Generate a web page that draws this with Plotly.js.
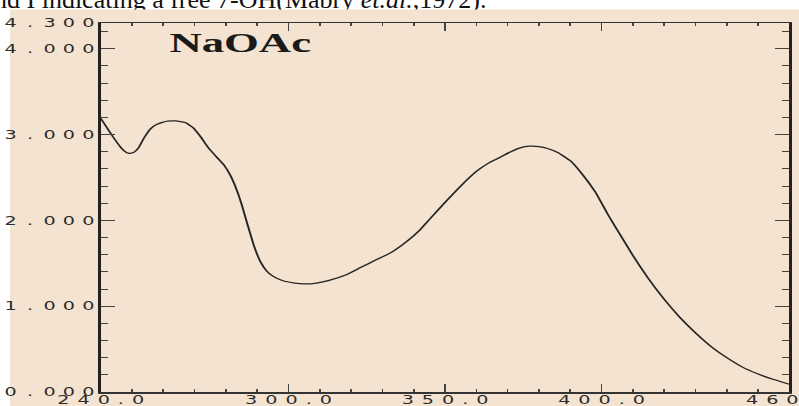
<!DOCTYPE html>
<html><head><meta charset="utf-8">
<script src="https://cdn.plot.ly/plotly-3.0.1.min.js"></script>
<style>
html,body{margin:0;padding:0;background:#fff;overflow:hidden;width:799px;height:406px;}
#cap{position:absolute;left:-6px;top:-13px;font-family:'Liberation Serif','Times New Roman',serif;font-size:26px;line-height:25.5px;white-space:nowrap;color:#111;z-index:0;}
#chart{position:absolute;left:0;top:0;width:500px;height:406px;transform:scaleX(1.598);transform-origin:0 0;z-index:1;}
</style></head><body>
<div id="cap">nd I indicating a free 7-OH(Mabry <i>et.al.</i>,1972).</div>
<div id="chart"></div>
<script>
const wavelength = [240,242,244,246,247.5,249,250.5,252,254,256,258,261,264,267,269.5,272,274.5,277,279.5,281.5,283.5,285,287,289,291,293,295,298,302,305,309,313,318,323,328,333,338,342,345,350,355,360,364,367,371,374,377,380,383,386,390,394,398,402,406,410,415,420,425,430,435,440,445,450,455,460];
const absorbance = [3.19,3.08,2.97,2.87,2.81,2.78,2.79,2.84,2.97,3.07,3.12,3.155,3.16,3.14,3.08,2.97,2.84,2.74,2.64,2.52,2.35,2.19,1.94,1.70,1.52,1.41,1.35,1.30,1.27,1.26,1.27,1.30,1.36,1.45,1.54,1.63,1.76,1.89,2.01,2.21,2.40,2.57,2.67,2.725,2.80,2.845,2.865,2.86,2.835,2.79,2.695,2.53,2.33,2.07,1.83,1.59,1.32,1.08,0.87,0.69,0.53,0.40,0.29,0.21,0.145,0.09];
const xTickVals = [240,300,350,400,460];
const xTickLabels = ['240.0','300.0','350.0','400.0','460.0'];
const yTickVals = [0,1,2,3,4,4.3];
const yTickLabels = ['0.000','1.000','2.000','3.000','4.000','4.300'];
const sampleLabel = 'NaOAc';

function spX(t){ return "<span style='letter-spacing:5px'>" + t.slice(0,-1) + "</span>" + t.slice(-1); }
function spY(t){
  return "<span style='letter-spacing:6.5px'>" + t.slice(0,2) + "</span>" +
         "<span style='letter-spacing:4.5px'>" + t.slice(2,-1) + "</span>" + t.slice(-1);
}

const tickFont = {family:'DejaVu Sans', size:12, color:'#2a2a2a'};
const trace = {
  x: wavelength, y: absorbance, mode:'lines', type:'scatter',
  line:{color:'#262626', width:1.25, shape:'spline', smoothing:0.45},
  hoverinfo:'skip'
};
const layout = {
  width:500, height:406,
  margin:{l:63, r:6, t:23, b:14, pad:0},
  paper_bgcolor:'rgba(0,0,0,0)', plot_bgcolor:'rgba(0,0,0,0)',
  showlegend:false,
  xaxis:{
    range:[240,460], tickmode:'array', tickvals:xTickVals, ticktext:xTickLabels.map(spX),
    ticks:'inside', ticklen:8, tickwidth:1, tickcolor:'#444', ticklabelstandoff:-4,
    ticklabeloverflow:'allow',
    showline:true, linecolor:'#333', linewidth:1.5, mirror:'allticks',
    showgrid:false, zeroline:false, tickfont:tickFont,
    minor:{dtick:10, tick0:240, ticks:'inside', ticklen:3, tickwidth:1, tickcolor:'#444', showgrid:false}
  },
  yaxis:{
    range:[0,4.3], tickmode:'array', tickvals:yTickVals, ticktext:yTickLabels.map(spY),
    ticks:'inside', ticklen:9, tickwidth:1, tickcolor:'#444', ticklabeloverflow:'allow',
    showline:true, linecolor:'#222', linewidth:1.5, mirror:'allticks',
    showgrid:false, zeroline:false, tickfont:tickFont,
    minor:{dtick:0.2, tick0:0, ticks:'inside', ticklen:4.5, tickwidth:1, tickcolor:'#444', showgrid:false}
  },
  shapes:[{type:'rect', xref:'paper', yref:'paper', x0:-0.1316, x1:1.1, y0:-0.1, y1:1.0366,
    fillcolor:'#f3e3d0', line:{width:0}, layer:'below'}],
  annotations:[{text:'<b>'+sampleLabel+'</b>', xref:'paper', yref:'paper', x:0.096, y:0.947,
    xanchor:'left', yanchor:'middle', showarrow:false,
    font:{family:'Liberation Serif', size:28, color:'#1a1a1a'}}]
};
Plotly.newPlot('chart', [trace], layout, {staticPlot:true, displayModeBar:false});
</script>
</body></html>
